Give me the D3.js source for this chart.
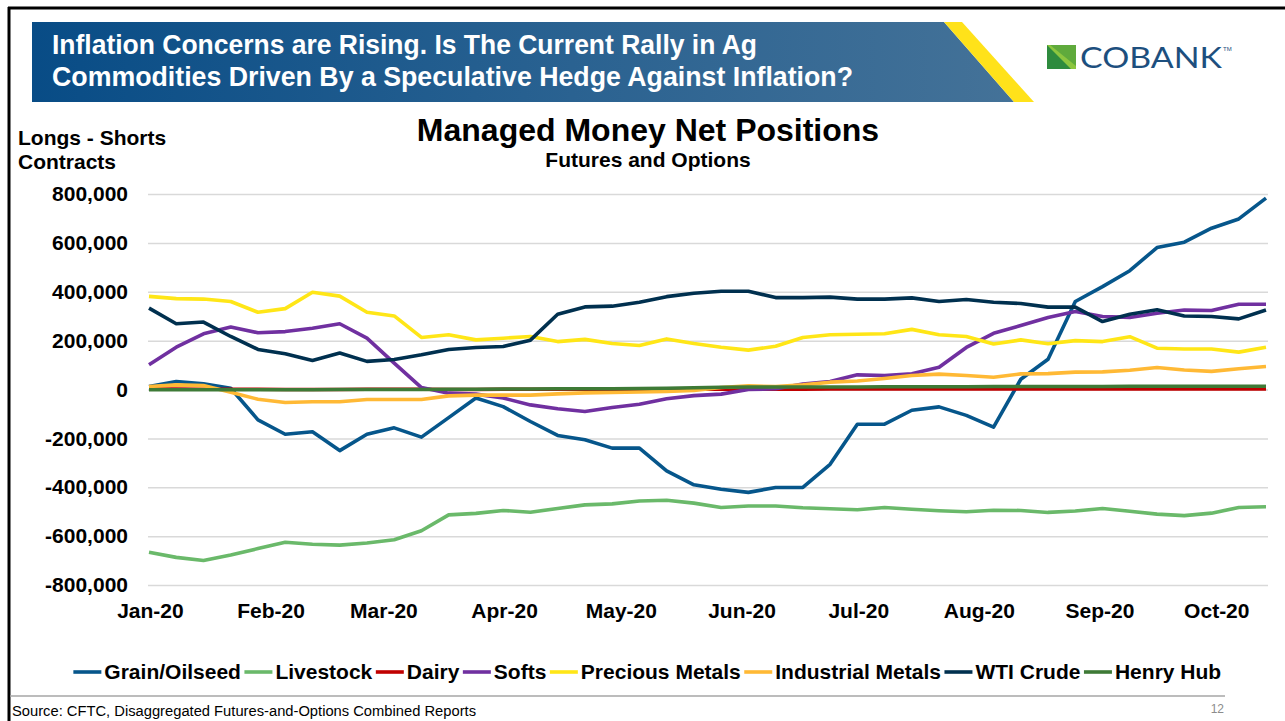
<!DOCTYPE html>
<html>
<head>
<meta charset="utf-8">
<script src="https://cdn.jsdelivr.net/npm/d3@7"></script>
<style>
  body { margin: 0; background: #fff; }
  svg { display: block; font-family: "Liberation Sans", Arial, sans-serif; }
</style>
</head>
<body>
<svg id="chart" width="1285" height="721"></svg>
<script>
// weekly report dates (Tuesdays)
var dates = ["2019-12-31", "2020-01-07", "2020-01-14", "2020-01-21", "2020-01-28",
    "2020-02-04", "2020-02-11", "2020-02-18", "2020-02-25", "2020-03-03", "2020-03-10",
    "2020-03-17", "2020-03-24", "2020-03-31", "2020-04-07", "2020-04-14", "2020-04-21",
    "2020-04-28", "2020-05-05", "2020-05-12", "2020-05-19", "2020-05-26", "2020-06-02",
    "2020-06-09", "2020-06-16", "2020-06-23", "2020-06-30", "2020-07-07", "2020-07-14",
    "2020-07-21", "2020-07-28", "2020-08-04", "2020-08-11", "2020-08-18", "2020-08-25",
    "2020-09-01", "2020-09-08", "2020-09-15", "2020-09-22", "2020-09-29", "2020-10-06",
    "2020-10-13"];

// net positions, thousands of contracts
var grain = [12, 33, 23, 5, -124, -183, -173, -250, -183, -157, -195, -115, -35, -70, -131,
    -188, -206, -240, -240, -333, -390, -408, -421, -401, -401, -306, -142, -142, -85, -71,
    -106, -154, 42, 124, 360, 421, 486, 581, 603, 660, 698, 783];
var livestock = [-666, -687, -700, -677, -651, -625, -633, -637, -628, -615, -578, -513, -507,
    -495, -502, -487, -472, -468, -456, -453, -465, -483, -477, -477, -484, -488, -492, -483,
    -490, -496, -500, -494, -495, -503, -497, -487, -498, -510, -516, -506, -483, -480];
var dairy = [2, 2, 1, 1, 1, 0, 0, 0, 1, 1, 1, 0, 0, 1, 1, 1, 1, 1, 0, 0, 1, 1, 1, 1, 1, 2, 2,
    2, 2, 2, 2, 2, 2, 2, 2, 2, 2, 2, 2, 2, 2, 2];
var softs = [101, 173, 228, 256, 232, 237, 251, 269, 210, 108, 8, -15, -19, -35, -63, -79, -90,
    -74, -60, -38, -25, -19, 0, 3, 22, 33, 60, 57, 64, 91, 172, 230, 262, 295, 319, 299, 295,
    312, 325, 323, 349, 349];
var precious = [381, 372, 370, 360, 316, 331, 398, 382, 316, 301, 213, 224, 203, 210, 217, 196,
    205, 188, 180, 207, 188, 173, 161, 177, 213, 224, 226, 228, 246, 224, 217, 186, 203, 187,
    200, 196, 216, 169, 166, 166, 153, 173];
var industrial = [12, 19, 16, -11, -40, -53, -50, -50, -41, -41, -41, -26, -23, -23, -23, -18,
    -14, -12, -10, -8, -4, 8, 15, 12, 19, 30, 35, 45, 57, 63, 57, 50, 64, 65, 71, 72, 79, 90,
    80, 74, 85, 94];
var wti = [333, 269, 276, 217, 164, 146, 119, 149, 115, 123, 142, 164, 172, 176, 202, 308, 338,
    341, 357, 380, 394, 402, 402, 376, 376, 378, 370, 370, 375, 360, 368, 357, 352, 337, 337,
    278, 308, 326, 301, 299, 289, 325];
var henry = [-1, -1, -1, -1, -1, -1, -1, 0, 0, 0, 0, 1, 1, 2, 2, 3, 3, 3, 4, 5, 7, 9, 10, 10,
    10, 10, 10, 11, 11, 11, 11, 12, 12, 12, 12, 12, 13, 13, 13, 13, 13, 13];

var seriesNames = ["Grain/Oilseed", "Livestock", "Dairy", "Softs", "Precious Metals",
    "Industrial Metals", "WTI Crude", "Henry Hub"];
var seriesValues = [grain, livestock, dairy, softs, precious, industrial, wti, henry];
var colors = ["#06568b", "#6ab96a", "#c00000", "#7030a0", "#ffe617", "#ffb935", "#00304f", "#3e7a36"];

var yTicks = [-800000, -600000, -400000, -200000, 0, 200000, 400000, 600000, 800000];
var monthTicks = ["2020-01-01", "2020-02-01", "2020-03-01", "2020-04-01", "2020-05-01",
    "2020-06-01", "2020-07-01", "2020-08-01", "2020-09-01", "2020-10-01"];

var parse = d3.timeParse("%Y-%m-%d");
var svg = d3.select("#chart");

// frame
svg.append("line").attr("x1", 8).attr("x2", 1285).attr("y1", 8).attr("y2", 8)
    .attr("stroke", "#000").attr("stroke-width", 3);
svg.append("line").attr("x1", 9).attr("x2", 9).attr("y1", 7).attr("y2", 721)
    .attr("stroke", "#000").attr("stroke-width", 3);

// header banner
var defs = svg.append("defs");
var grad = defs.append("linearGradient").attr("id", "band").attr("x1", "0").attr("x2", "1");
grad.append("stop").attr("offset", "0").attr("stop-color", "#084c86");
grad.append("stop").attr("offset", "0.55").attr("stop-color", "#2a6291");
grad.append("stop").attr("offset", "1").attr("stop-color", "#447298");

svg.append("polygon").attr("points", "32,22 944,22 1014,102 32,102").attr("fill", "url(#band)");
svg.append("polygon").attr("points", "944,22 962,22 1034,102 1014,102").attr("fill", "#ffe21a");

var head = svg.append("g").attr("fill", "#fff").attr("font-weight", "bold")
    .style("font-family", "'Liberation Sans Narrow', 'Arial Narrow', 'Liberation Sans', sans-serif")
    .attr("font-size", 27);
head.append("text").attr("x", 52).attr("y", 54)
    .attr("textLength", 705).attr("lengthAdjust", "spacingAndGlyphs")
    .text("Inflation Concerns are Rising. Is The Current Rally in Ag");
head.append("text").attr("x", 52).attr("y", 86)
    .attr("textLength", 801).attr("lengthAdjust", "spacingAndGlyphs")
    .text("Commodities Driven By a Speculative Hedge Against Inflation?");

// logo
svg.append("polygon").attr("points", "1047,45 1076,45 1076,69 1047,69").attr("fill", "#8cc63f");
svg.append("polygon").attr("points", "1047,45 1071,69 1047,69").attr("fill", "#2e8b3e");
svg.append("polygon").attr("points", "1050,45 1076,45 1076,66").attr("fill", "#5faa3c");
svg.append("text").attr("x", 1080).attr("y", 68)
    .attr("font-size", 28).attr("fill", "#1d4f7e")
    .style("font-family", "Lato, 'Open Sans', sans-serif")
    .attr("textLength", 142).attr("lengthAdjust", "spacingAndGlyphs")
    .text("COBANK");
svg.append("text").attr("x", 1223).attr("y", 51).attr("font-size", 6).attr("fill", "#1d4f7e").text("TM");

// titles
svg.append("text").attr("x", 648).attr("y", 141).attr("text-anchor", "middle")
    .attr("font-size", 32).attr("font-weight", "bold").text("Managed Money Net Positions");
svg.append("text").attr("x", 648).attr("y", 167).attr("text-anchor", "middle")
    .attr("font-size", 21).attr("font-weight", "bold").text("Futures and Options");
svg.append("text").attr("x", 18).attr("y", 145)
    .attr("font-size", 21).attr("font-weight", "bold").text("Longs - Shorts");
svg.append("text").attr("x", 18).attr("y", 169)
    .attr("font-size", 21).attr("font-weight", "bold").text("Contracts");

// scales
var x = d3.scaleTime()
    .domain([parse(dates[0]), parse(dates[dates.length - 1])])
    .range([149, 1266]);
var y = d3.scaleLinear().domain([-800000, 800000]).range([585, 194]);

// y axis + gridlines
var yAxis = svg.append("g")
    .attr("transform", "translate(148,0)")
    .call(d3.axisLeft(y)
        .tickValues(yTicks)
        .tickSize(-1120)
        .tickPadding(20)
        .tickFormat(function (d) { return d3.format(",")(d).replace("\u2212", "-"); }));
yAxis.select(".domain").remove();
yAxis.selectAll("line").attr("stroke", "#d9d9d9").attr("stroke-width", 1.5);
yAxis.selectAll("text").attr("font-size", 21).attr("font-weight", "bold")
    .attr("fill", "#000").style("font-family", "'Liberation Sans', Arial, sans-serif");

// x axis (labels sit a touch left of the month start, as in the original)
var xAxis = svg.append("g")
    .attr("transform", "translate(-3,586)")
    .call(d3.axisBottom(x)
        .tickValues(monthTicks.map(parse))
        .tickSize(0)
        .tickPadding(17)
        .tickFormat(d3.timeFormat("%b-%y")));
xAxis.select(".domain").remove();
xAxis.selectAll("text").attr("font-size", 21).attr("font-weight", "bold")
    .attr("fill", "#000").style("font-family", "'Liberation Sans', Arial, sans-serif");

// lines
var line = d3.line()
    .x(function (d, i) { return x(parse(dates[i])); })
    .y(function (d) { return y(d * 1000); });

svg.append("g").selectAll("path")
    .data(seriesValues)
    .enter().append("path")
    .attr("d", line)
    .attr("fill", "none")
    .attr("stroke", function (d, i) { return colors[i]; })
    .attr("stroke-width", 3.6)
    .attr("stroke-linejoin", "round");

// legend
var legend = svg.append("g");
var lx = 0;
seriesNames.forEach(function (name, i) {
    var item = legend.append("g").attr("transform", "translate(" + lx + ",0)");
    item.append("line").attr("x1", 0).attr("x2", 28).attr("y1", 672).attr("y2", 672)
        .attr("stroke", colors[i]).attr("stroke-width", 3.6);
    var t = item.append("text").attr("x", 31).attr("y", 679)
        .attr("font-size", 21).attr("font-weight", "bold").text(name);
    lx += 31 + t.node().getComputedTextLength() + 3.5;
});
legend.attr("transform", "translate(" + (649 - lx / 2) + ",0)");

// footer
svg.append("line").attr("x1", 10).attr("x2", 1225).attr("y1", 696).attr("y2", 696)
    .attr("stroke", "#a6a6a6").attr("stroke-width", 1.5);
svg.append("text").attr("x", 12).attr("y", 716).attr("font-size", 14)
    .attr("textLength", 464).attr("lengthAdjust", "spacingAndGlyphs")
    .text("Source: CFTC, Disaggregated Futures-and-Options Combined Reports");
svg.append("text").attr("x", 1224).attr("y", 713).attr("text-anchor", "end")
    .attr("font-size", 12).attr("fill", "#8c8c8c").text("12");
</script>
</body>
</html>
